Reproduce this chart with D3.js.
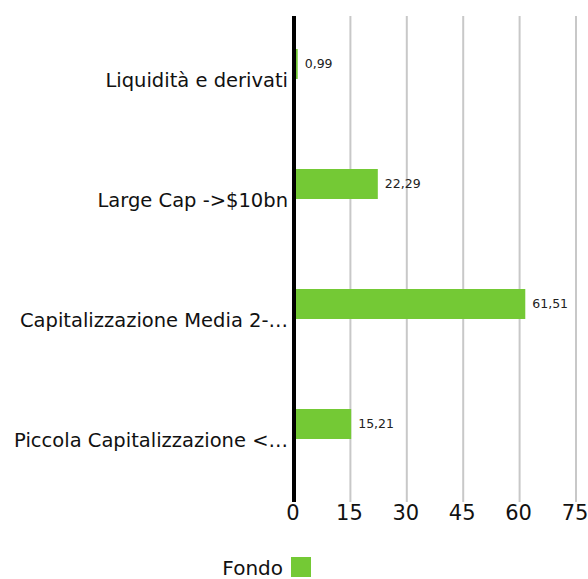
<!DOCTYPE html>
<html><head><meta charset="utf-8">
<script src="https://cdn.jsdelivr.net/npm/d3@7"></script>
<style>body{margin:0;background:#fff}svg{display:block}</style>
</head><body>
<svg id="c" width="588" height="579"></svg>
<script>
const categories = ["Liquidità e derivati", "Large Cap ->$10bn", "Capitalizzazione Media 2-…", "Piccola Capitalizzazione <…"];
const values = [0.99, 22.29, 61.51, 15.21];
const valueLabels = ["0,99", "22,29", "61,51", "15,21"];
const ticks = [0, 15, 30, 45, 60, 75];
const seriesName = "Fondo";

const svg = d3.select("#c");
const font = "DejaVu Sans, sans-serif";
const x = d3.scaleLinear().domain([0, 75]).range([294, 576]);
const y = d3.scaleBand().domain(categories).range([20, 500]);

// gridlines
svg.append("g").selectAll("line").data(ticks.slice(1)).join("line")
  .attr("x1", d => x(d)).attr("x2", d => x(d))
  .attr("y1", 16).attr("y2", 502)
  .attr("stroke", "#c8c8c8").attr("stroke-width", 2);

// bars
svg.append("g").selectAll("rect").data(values).join("rect")
  .attr("x", x(0))
  .attr("y", (d, i) => y(categories[i]) + y.bandwidth() / 2 - 31)
  .attr("width", d => x(d) - x(0))
  .attr("height", 30)
  .attr("fill", "#74c935");

// value labels
svg.append("g").selectAll("text").data(values).join("text")
  .attr("x", d => x(d) + 7)
  .attr("y", (d, i) => y(categories[i]) + y.bandwidth() / 2 - 16)
  .attr("dy", "0.35em")
  .attr("font-family", font).attr("font-size", 12.5).attr("fill", "#222")
  .text((d, i) => valueLabels[i]);

// category labels
svg.append("g").selectAll("text").data(categories).join("text")
  .attr("x", 288)
  .attr("y", d => y(d) + y.bandwidth() / 2)
  .attr("dy", "0.35em")
  .attr("text-anchor", "end")
  .attr("font-family", font).attr("font-size", 19.5).attr("fill", "#111")
  .text(d => d);

// axis line
svg.append("line").attr("x1", x(0)).attr("x2", x(0)).attr("y1", 16).attr("y2", 502)
  .attr("stroke", "#000").attr("stroke-width", 4);

// tick labels
svg.append("g").selectAll("text").data(ticks).join("text")
  .attr("x", d => x(d) - 1)
  .attr("y", 513)
  .attr("dy", "0.35em")
  .attr("text-anchor", "middle")
  .attr("font-family", font).attr("font-size", 21).attr("fill", "#111")
  .text(d => d);

// legend
svg.append("rect").attr("x", 291).attr("y", 557).attr("width", 20).attr("height", 20).attr("fill", "#74c935");
svg.append("text").attr("x", 283).attr("y", 568).attr("dy", "0.35em").attr("text-anchor", "end")
  .attr("font-family", font).attr("font-size", 20).attr("fill", "#111").text(seriesName);
</script>
</body></html>
